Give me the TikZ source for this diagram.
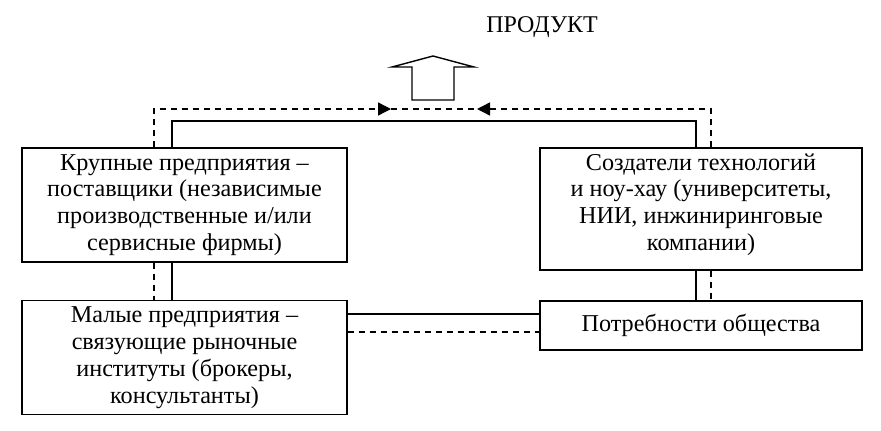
\documentclass[tikz,border=0pt]{standalone}
\usepackage{fontspec}
\setmainfont{Liberation Serif}
\usetikzlibrary{arrows.meta}

\begin{document}
\begin{tikzpicture}[x=1pt,y=-1pt,
  box/.style={draw,line width=1.4pt,align=center,inner sep=0pt,
  font=\fontsize{24.2}{26.8}\selectfont},
  line/.style={line width=1.4pt},
  dline/.style={line width=1.4pt,dash pattern=on 6pt off 5pt},
  tip/.style={-{Triangle[length=13pt,width=13pt]}},
]
\useasboundingbox (0,0) rectangle (881,431);
\node[font=\fontsize{24}{26.8}\selectfont] (produkt) at (542,27) {ПРОДУКТ};
\node[box,minimum width=325pt,minimum height=114pt] (krup) at (184.5,205) {Крупные предприятия –\\поставщики (независимые\\производственные и/или\\сервисные фирмы)};
\node[box,minimum width=322pt,minimum height=122pt,text depth=14pt] (sozd) at (701,209) {Создатели технологий\\и ноу-хау (университеты,\\НИИ, инжиниринговые\\компании)};
\node[box,minimum width=325pt,minimum height=114pt] (mal) at (184.5,357.5) {Малые предприятия –\\связующие рыночные\\институты (брокеры,\\консультанты)};
\node[box,minimum width=322pt,minimum height=49pt] (potr) at (701,325.5) {Потребности общества};

\coordinate (sL) at (172,121);
\coordinate (sR) at (696,121);
\coordinate (dL) at (154,109);
\coordinate (dR) at (711,109);
\coordinate (aL) at (391,109);
\coordinate (aR) at (477,109);
\coordinate (hS) at (444,314);
\coordinate (hD) at (444,332);

\draw[line,line join=miter] (412,100) -- (412,67) -- (392,67) -- (433,56) -- (474,67) -- (454,67) -- (454,100) -- cycle;

\draw[line] (krup.north -| sL) -- (sL) -- (sR) -- (sozd.north -| sR);
\draw[dline,tip] (krup.north -| dL) -- (dL) -- (aL);
\draw[dline,tip] (sozd.north -| dR) -- (dR) -- (aR);
\draw[dline] (aL) -- (aR);

\draw[line] (krup.south -| sL) -- (mal.north -| sL);
\draw[dline] (krup.south -| dL) -- (mal.north -| dL);
\draw[line] (sozd.south -| sR) -- (potr.north -| sR);
\draw[dline] (sozd.south -| dR) -- (potr.north -| dR);
\draw[line] (mal.east |- hS) -- (potr.west |- hS);
\draw[dline] (mal.east |- hD) -- (potr.west |- hD);
\end{tikzpicture}
\end{document}
